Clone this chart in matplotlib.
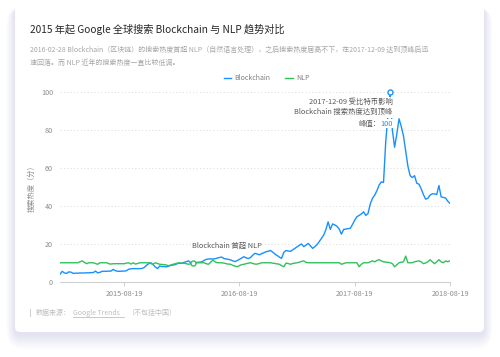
import matplotlib
matplotlib.use('Agg')
import matplotlib.pyplot as plt
from matplotlib.patches import FancyBboxPatch, Rectangle
from matplotlib.lines import Line2D
from matplotlib.transforms import Affine2D

plt.rcParams['font.family'] = ['Noto Sans CJK SC', 'DejaVu Sans']

# ---------------- data (weekly Google Trends index) ----------------
blockchain = [
    3.9, 5.5, 4.6, 4.4, 5.2, 5.0, 4.4, 4.5, 4.5, 4.6,
    4.6, 4.6, 4.7, 4.7, 4.8, 4.8, 5.6, 4.7, 4.9, 5.5,
    5.5, 5.5, 5.6, 5.6, 6.5, 5.8, 5.5, 5.5, 5.6, 5.6,
    5.8, 6.6, 6.8, 6.9, 6.9, 6.9, 6.9, 7.0, 7.5, 8.6,
    9.5, 10.0, 9.0, 7.8, 6.9, 8.3, 8.0, 8.0, 7.8, 8.2,
    8.6, 8.8, 9.0, 9.6, 9.7, 9.7, 10.2, 10.6, 11.0, 10.0,
    10.0, 10.1, 10.2, 10.3, 10.5, 11.2, 11.8, 12.0, 12.0, 12.0,
    12.1, 12.5, 12.8, 13.0, 12.2, 12.0, 11.8, 11.5, 11.0, 10.6,
    11.2, 11.8, 12.5, 13.2, 12.6, 12.2, 12.8, 14.0, 15.0, 14.6,
    14.2, 14.8, 15.3, 15.8, 16.1, 16.5, 15.6, 14.6, 13.8, 13.0,
    12.3, 15.5, 16.5, 16.2, 16.0, 16.8, 17.6, 18.4, 19.2, 19.9,
    18.5, 19.3, 20.2, 19.0, 17.6, 18.5, 19.6, 21.2, 22.9, 24.6,
    27.5, 31.6, 27.6, 30.5, 30.0, 29.2, 27.8, 25.1, 27.6, 27.8,
    28.0, 28.2, 30.2, 32.5, 34.3, 35.0, 35.8, 36.9, 35.0, 36.0,
    41.0, 44.0, 45.7, 48.0, 51.0, 52.7, 52.4, 74.0, 88.0, 100.0,
    80.0, 71.0, 78.0, 86.0, 82.0, 77.0, 69.0, 61.0, 56.0, 55.0,
    56.0, 52.0, 51.5, 49.0, 46.0, 43.6, 44.0, 45.7, 46.4, 46.4,
    46.0, 50.8, 44.8, 44.5, 44.2, 42.5, 41.3,
]
nlp = [
    10.0, 10.0, 10.0, 10.0, 10.0, 10.0, 10.0, 10.0, 10.0, 10.5,
    11.0, 10.2, 9.5, 10.0, 10.0, 10.0, 9.6, 9.2, 10.0, 10.0,
    10.0, 10.0, 9.5, 9.3, 9.5, 9.5, 9.5, 9.5, 9.5, 9.5,
    9.8, 10.0, 9.3, 10.0, 9.3, 9.6, 10.0, 10.0, 10.0, 10.0,
    10.0, 9.6, 9.2, 10.0, 9.6, 9.2, 9.1, 9.0, 8.8, 8.4,
    8.8, 9.2, 9.5, 9.8, 10.0, 9.8, 9.7, 9.5, 9.2, 9.5,
    9.8, 9.8, 10.0, 10.0, 10.0, 10.0, 9.5, 9.2, 10.3, 11.4,
    10.5, 10.0, 10.0, 10.0, 9.8, 9.5, 9.3, 9.2, 8.6, 8.2,
    7.9, 8.5, 9.0, 9.2, 9.5, 9.8, 10.0, 9.6, 9.3, 9.3,
    9.6, 10.0, 10.0, 10.0, 10.0, 10.0, 9.8, 9.6, 9.4, 9.2,
    8.5, 7.9, 9.8, 9.6, 9.2, 9.6, 9.8, 10.0, 10.3, 10.7,
    11.0, 10.2, 10.0, 10.0, 10.0, 10.0, 10.0, 10.0, 10.0, 10.0,
    10.0, 10.0, 10.0, 10.0, 10.0, 10.0, 10.0, 9.2, 9.6, 10.0,
    10.0, 10.0, 10.0, 10.0, 10.0, 7.9, 9.2, 10.0, 10.0, 10.0,
    10.5, 11.0, 10.5, 11.2, 11.6, 11.0, 10.5, 10.3, 10.2, 10.0,
    9.5, 7.9, 8.9, 10.0, 10.3, 10.5, 13.5, 10.0, 10.0, 10.0,
    10.5, 10.8, 11.0, 10.5, 9.5, 9.9, 10.5, 11.6, 10.5, 9.5,
    10.5, 11.6, 10.5, 10.0, 11.0, 10.5, 11.0,
]
x_tick_labels = ['2015-08-19', '2016-08-19', '2017-08-19', '2018-08-19']
x_tick_index = [29, 81, 133, 176]
y_ticks = [0, 20, 40, 60, 80, 100]
series_names = ['Blockchain', 'NLP']
cross_index = 60     # 2016-02-28
peak_index = 149     # 2017-12-09

BLUE = '#1890FF'
GREEN = '#2FC25B'

W, H = 500, 357
fig = plt.figure(figsize=(W / 100, H / 100), dpi=100)
fig.patch.set_facecolor('white')
px = Affine2D().scale(1.0 / W, 1.0 / H) + fig.transFigure  # pixel coords, y up


def P(y):
    return H - y


# ---------------- card with soft shadow ----------------
cx0, cy0, cx1, cy1 = 15, 6, 484, 332
for k in range(14, 0, -1):
    sh = FancyBboxPatch((cx0 - k * 0.6, P(cy1 + k * 1.1 + 2)), (cx1 - cx0) + k * 1.2,
                        (cy1 - cy0) + k * 1.2,
                        boxstyle='round,pad=0,rounding_size=%f' % (5 + k),
                        transform=px, facecolor=(0.45, 0.45, 0.72), edgecolor='none',
                        alpha=0.013, zorder=0)
    fig.patches.append(sh)
card = FancyBboxPatch((cx0, P(cy1)), cx1 - cx0, cy1 - cy0,
                      boxstyle='round,pad=0,rounding_size=5', transform=px,
                      facecolor='white', edgecolor='none', zorder=1)
fig.patches.append(card)

# ---------------- texts ----------------
fig.text(30 / W, 1 - 29 / H, '2015 年起 Google 全球搜索 Blockchain 与 NLP 趋势对比',
         fontsize=7.3, color='#262626', va='center', ha='left', zorder=3, weight=500)
fig.text(30 / W, 1 - 50 / H,
         '2016-02-28 Blockchain（区块链）的搜索热度首超 NLP（自然语言处理），之后搜索热度居高不下，在2017-12-09 达到顶峰后迅',
         fontsize=5.0, color='#a6a6a6', va='center', ha='left', zorder=3)
fig.text(30 / W, 1 - 63 / H, '速回落。而 NLP 近年的搜索热度一直比较低调。',
         fontsize=5.0, color='#a6a6a6', va='center', ha='left', zorder=3)

# ---------------- axes ----------------
ax = fig.add_axes([60 / W, 1 - 281.7 / H, 390 / W, (281.7 - 92.3) / H])
ax.set_zorder(2)
ax.patch.set_alpha(0)
xs = list(range(len(blockchain)))
l1, = ax.plot(xs, blockchain, color=BLUE, lw=1.0, solid_joinstyle='round', zorder=3,
              label=series_names[0])
l2, = ax.plot(xs, nlp, color=GREEN, lw=1.0, solid_joinstyle='round', zorder=3,
              label=series_names[1])
ax.set_xlim(0, len(blockchain) - 1)
ax.set_ylim(0, 100)
ax.set_yticks(y_ticks)
ax.set_yticklabels([str(v) for v in y_ticks])
ax.set_xticks(x_tick_index)
ax.set_xticklabels(x_tick_labels)
for v in y_ticks[1:]:
    ax.axhline(v, color='#d9d9d9', lw=0.7, ls=(0, (1, 2.5)), zorder=1)
for s in ['top', 'right', 'left']:
    ax.spines[s].set_visible(False)
ax.spines['bottom'].set_color('#d0d0d0')
ax.spines['bottom'].set_linewidth(0.8)
ax.tick_params(axis='y', length=0, pad=5, labelsize=5.2, labelcolor='#8c8c8c')
ax.tick_params(axis='x', length=3, width=0.7, color='#d0d0d0', pad=3,
               labelsize=5.2, labelcolor='#8c8c8c')
ax.set_ylabel('搜索热度（分）', fontsize=5.2, color='#8c8c8c', labelpad=4)

# markers
ax.plot([peak_index], [blockchain[peak_index]], 'o', ms=3.6, mfc='white', mec=BLUE,
        mew=1.0, clip_on=False, zorder=6)
ax.plot([cross_index], [nlp[cross_index]], 'o', ms=3.6, mfc='white', mec=GREEN,
        mew=1.0, clip_on=False, zorder=6)

# annotations at the peak
pk = (peak_index, blockchain[peak_index])
ann_kw = dict(textcoords='offset points', ha='right', va='center', fontsize=5.3,
              color='#595959', zorder=5)
ax.annotate('2017-12-09 受比特币影响', xy=pk, xytext=(1.8, -7.3),
            bbox=dict(boxstyle='square,pad=0.25', fc='white', ec='none'), **ann_kw)
ax.annotate('Blockchain 搜索热度达到顶峰', xy=pk, xytext=(1.8, -14.2),
            bbox=dict(boxstyle='square,pad=0.25', fc='white', ec='none'), **ann_kw)
ax.annotate('100', xy=pk, xytext=(1.8, -22.6), textcoords='offset points', ha='right',
            va='center', fontsize=5.3, color=BLUE, zorder=5,
            bbox=dict(boxstyle='square,pad=0.05', fc='white', ec='none'))
ax.annotate('峰值：', xy=pk, xytext=(-6.8, -22.6), textcoords='offset points', ha='right',
            va='center', fontsize=5.3, color='#595959', zorder=5)

# annotation at the crossing point
ax.annotate('Blockchain 首超 NLP', xy=(cross_index, nlp[cross_index]), xytext=(-0.8, 12.3),
            textcoords='offset points', ha='left', va='center', fontsize=5.3,
            color='#595959', zorder=5)

# legend
fig.legend(handles=[l1, l2], labels=series_names, loc='center',
           bbox_to_anchor=(266.5 / W, 1 - 78 / H), ncol=2, frameon=False,
           fontsize=5.0, handlelength=1.1, handletextpad=0.4, columnspacing=2.2,
           labelcolor='#7f7f7f')

# ---------------- footer ----------------
fig.patches.append(Rectangle((29.5, P(317)), 1.4, 8, transform=px,
                             facecolor='#d0d0d0', edgecolor='none', zorder=3))
fig.text(36 / W, 1 - 313 / H, '数据来源：', fontsize=5.0, color='#bfbfbf',
         va='center', ha='left', zorder=3)
fig.text(72.7 / W, 1 - 313 / H, 'Google Trends', fontsize=5.0, color='#bfbfbf',
         va='center', ha='left', zorder=3)
fig.lines.append(Line2D([72.7, 124.3], [P(317.3), P(317.3)], transform=px,
                        color='#bfbfbf', lw=0.6, zorder=3))
fig.text(127 / W, 1 - 313 / H, '（不包括中国）', fontsize=5.0, color='#bfbfbf',
         va='center', ha='left', zorder=3)

fig.savefig('out.png', dpi=100, facecolor='white')
